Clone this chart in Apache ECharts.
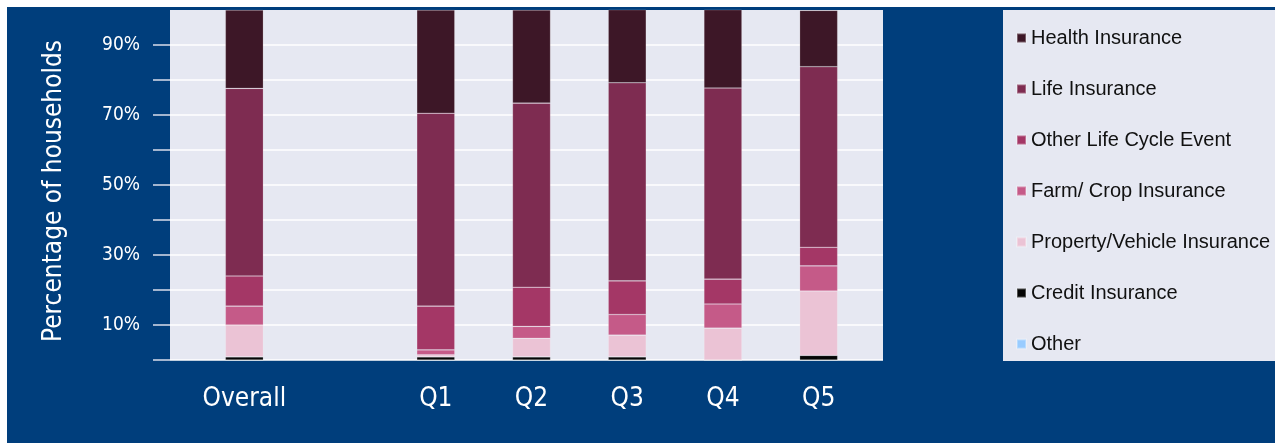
<!DOCTYPE html>
<html>
<head>
<meta charset="utf-8">
<script src="https://cdn.jsdelivr.net/npm/echarts@6/dist/echarts.min.js"></script>
<style>
  html, body { margin: 0; padding: 0; background: #ffffff; }
  #chart { width: 1275px; height: 443px; }
</style>
</head>
<body>
<div id="chart"></div>
<script>
// ---- data ----
const categories = ['Overall', '', 'Q1', 'Q2', 'Q3', 'Q4', 'Q5'];
const yTickValues = [10, 30, 50, 70, 90];
const yTickMarks = [0, 10, 20, 30, 40, 50, 60, 70, 80, 90];
const otherVals        = [0,   null, 0,    0,    0,    0,    0];
const creditVals       = [0.9, null, 0.9,  0.9,  0.9,  0,    1.3];
const propertyVals     = [9.1, null, 0.6,  5.3,  6.2,  9.1,  18.4];
const farmVals         = [5.4, null, 1.4,  3.4,  5.9,  6.9,  7.2];
const otherLifeVals    = [8.6, null, 12.5, 11.2, 9.6,  7.1,  5.3];
const lifeVals         = [53.6, null, 55.1, 52.6, 56.6, 54.6, 51.6];
const healthVals       = [22.4, null, 29.5, 26.6, 20.9, 22.4, 16.1];
const seriesNames = ['Other', 'Credit Insurance', 'Property/Vehicle Insurance',
  'Farm/ Crop Insurance', 'Other Life Cycle Event', 'Life Insurance', 'Health Insurance'];
const seriesColors = ['#99CCFF', '#050505', '#EBC3D5', '#C55A88', '#A43766', '#7E2C51', '#3D1727'];
const seriesData = [otherVals, creditVals, propertyVals, farmVals, otherLifeVals, lifeVals, healthVals];

const BLUE = '#003E7C';
const PLOT_BG = '#E6E8F2';
const condensed = '"DejaVu Sans Condensed", "Liberation Sans Narrow", "DejaVu Sans", sans-serif';

const chart = echarts.init(document.getElementById('chart'), null, { renderer: 'canvas' });

const series = seriesNames.map((name, i) => ({
  name: name,
  type: 'bar',
  stack: 'total',
  xAxisIndex: 1,
  yAxisIndex: 1,
  barWidth: 38,
  data: seriesData[i],
  itemStyle: { color: seriesColors[i], borderColor: 'rgba(255,255,255,0.3)', borderWidth: 0.6 },
  emphasis: { disabled: true }
}));

chart.setOption({
  animation: false,
  backgroundColor: BLUE,
  graphic: [
    { type: 'rect', shape: { x: 0, y: 0, width: 1275, height: 7 }, style: { fill: '#ffffff' }, z: 0 },
    { type: 'rect', shape: { x: 0, y: 0, width: 7, height: 443 }, style: { fill: '#ffffff' }, z: 0 },
    { type: 'rect', shape: { x: 1003, y: 10, width: 272, height: 351 }, style: { fill: PLOT_BG }, z: 0 },
    { type: 'text', x: 54, y: 191, rotation: Math.PI / 2,
      style: { text: 'Percentage of households', fill: '#ffffff', font: '26px ' + condensed,
               align: 'center', verticalAlign: 'middle' }, z: 1 }
  ],
  legend: {
    orient: 'vertical',
    left: 1016,
    top: 28,
    padding: 0,
    itemWidth: 9,
    itemHeight: 9,
    itemGap: 31,
    icon: 'rect',
    data: seriesNames.slice().reverse(),
    textStyle: { color: '#111111', fontSize: 20, lineHeight: 20, fontFamily: '"Liberation Sans", Arial, sans-serif' },
    selectedMode: false
  },
  grid: [
    { left: 170, top: 10, width: 713, height: 350, show: true, backgroundColor: PLOT_BG, borderWidth: 0 },
    { left: 196.5, top: 10, width: 670, height: 350 }
  ],
  xAxis: [
    { gridIndex: 0, type: 'value', show: false, min: 0, max: 1 },
    {
      gridIndex: 1, type: 'category', data: categories,
      axisLine: { show: false }, axisTick: { show: false },
      axisLabel: { color: '#ffffff', fontSize: 26, fontFamily: condensed, margin: 26, interval: 0 }
    }
  ],
  yAxis: [
    {
      gridIndex: 0, type: 'value', min: 0, max: 100, interval: 10,
      axisLine: { show: false },
      axisTick: { show: true, length: 17, customValues: yTickMarks, lineStyle: { color: '#D9DDEA', width: 1.5 } },
      axisLabel: {
        color: '#ffffff', fontSize: 19, fontFamily: condensed, margin: 30,
        formatter: v => (yTickValues.indexOf(v) >= 0 ? v + '%' : '')
      },
      splitLine: { show: true, lineStyle: { color: '#ffffff', width: 1.5 } }
    },
    { gridIndex: 1, type: 'value', min: 0, max: 100, show: false }
  ],
  series: series
});
</script>
</body>
</html>
